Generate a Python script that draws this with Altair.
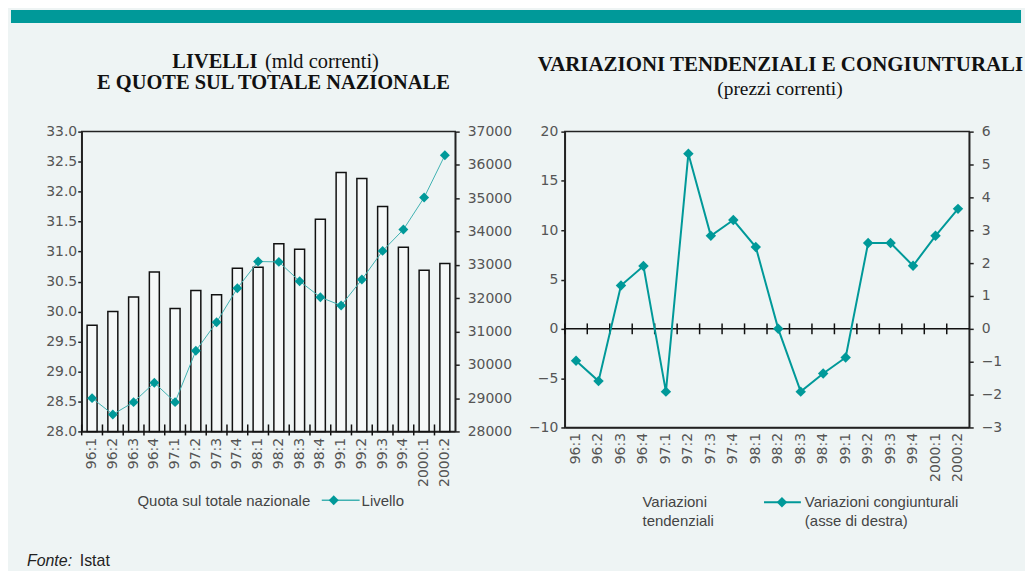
import altair as alt
import pandas as pd

# ---- data ----
cats = ["96:1", "96:2", "96:3", "96:4", "97:1", "97:2", "97:3", "97:4",
        "98:1", "98:2", "98:3", "98:4", "99:1", "99:2", "99:3", "99:4",
        "2000:1", "2000:2"]
quota = [29.77, 30.00, 30.24, 30.66, 30.05, 30.35, 30.28, 30.72,
         30.74, 31.13, 31.04, 31.54, 32.32, 32.22, 31.75, 31.07,
         30.69, 30.80]
livello = [29000, 28510, 28880, 29460, 28880, 30420, 31280, 32300,
           33100, 33090, 32510, 32030, 31780, 32560, 33420, 34060,
           35020, 36290]
congiunturali = [-0.97, -1.59, 1.32, 1.91, -1.91, 5.33, 2.83, 3.31,
                 2.49, 0.0, -1.91, -1.36, -0.87, 2.61, 2.61, 1.92,
                 2.83, 3.65]

quota_ticks = [28.0, 28.5, 29.0, 29.5, 30.0, 30.5, 31.0, 31.5, 32.0, 32.5, 33.0]
livello_ticks = [28000, 29000, 30000, 31000, 32000, 33000, 34000, 35000, 36000, 37000]
tend_ticks = [-10, -5, 0, 5, 10, 15, 20]
cong_ticks = [-3, -2, -1, 0, 1, 2, 3, 4, 5, 6]

df = pd.DataFrame({"periodo": cats, "quota": quota, "livello": livello,
                   "cong": congiunturali})
one = pd.DataFrame({"a": [0]})

TEAL = "#009999"
BG = "#eef4f4"
SANS = "Liberation Sans"
AX = "DejaVu Sans"
SERIF = "Liberation Serif"

W1, H1 = 375, 301
W2, H2 = 406, 297

xscale = alt.Scale(paddingInner=0, paddingOuter=0)


def xaxis(pad):
    return alt.Axis(title=None, labelAngle=-90, ticks=False, labelPadding=pad,
                    labelFont=AX, labelFontSize=14, labelColor="#555")


def txt(s, x, y, size=15, font=SANS, weight="normal", align="left",
        style="normal", color="#444", baseline="alphabetic"):
    return alt.Chart(one).mark_text(
        text=s, font=font, fontSize=size, fontWeight=weight, align=align,
        fontStyle=style, color=color, baseline=baseline
    ).encode(x=alt.value(x), y=alt.value(y))


# ---------------- left panel ----------------
header = alt.Chart(one).mark_rect(color=TEAL).encode(
    x=alt.value(-71), x2=alt.value(943), y=alt.value(-122), y2=alt.value(-109))

bars = alt.Chart(df).mark_bar(width=10, fill="#f5f8f8", stroke="#111",
                              strokeWidth=1.5).encode(
    x=alt.X("periodo:N", sort=cats, scale=xscale, axis=xaxis(6)),
    y=alt.Y("quota:Q", scale=alt.Scale(domain=[28, 33], zero=False, nice=False),
            axis=alt.Axis(orient="left", title=None, values=quota_ticks,
                          format=".1f", tickSize=4, labelPadding=1, grid=False)),
    y2=alt.datum(28),
)

line1 = alt.Chart(df).mark_line(
    color="#3fb1b1", strokeWidth=1,
    point=alt.OverlayMarkDef(shape="diamond", size=100, filled=True,
                             color=TEAL, opacity=1)
).encode(
    x=alt.X("periodo:N", sort=cats, scale=xscale, axis=xaxis(6)),
    y=alt.Y("livello:Q", scale=alt.Scale(domain=[28000, 37000], zero=False, nice=False),
            axis=alt.Axis(orient="right", title=None, values=livello_ticks,
                          format="d", tickSize=4, labelPadding=8, grid=False)),
)

ticks1 = alt.Chart(df).mark_rule(color="#111", strokeWidth=1.5).encode(
    x=alt.X("periodo:N", sort=cats, scale=xscale, axis=xaxis(6), bandPosition=0),
    y=alt.value(H1 - 7), y2=alt.value(H1 + 4),
)

leg1_line = alt.Chart(one).mark_rule(color="#3fb1b1", strokeWidth=1.5).encode(
    x=alt.value(241), x2=alt.value(279), y=alt.value(370))
leg1_pt = alt.Chart(one).mark_point(shape="diamond", size=100, filled=True,
                                    color=TEAL, opacity=1).encode(
    x=alt.value(253), y=alt.value(370))

left = alt.layer(
    header, bars, line1, ticks1,
    txt("LIVELLI", 91, -64, size=20.5, font=SERIF, weight="bold", color="#111"),
    txt("(mld correnti)", 184, -64, size=20.5, font=SERIF, color="#111"),
    txt("E QUOTE SUL TOTALE NAZIONALE", 192.5, -43, size=20.5, font=SERIF,
        weight="bold", align="center", color="#111"),
    txt("Quota sul totale nazionale", 56, 371, baseline="middle"),
    leg1_line, leg1_pt,
    txt("Livello", 281, 371, baseline="middle"),
    txt("Fonte:", -55, 436, size=16, style="italic", color="#222"),
    txt("Istat", -2, 436, size=16, color="#222"),
).resolve_scale(y="independent").properties(width=W1, height=H1)

# ---------------- right panel ----------------
ydom = alt.Scale(domain=[-10, 20], zero=False, nice=False)
yleft_axis = alt.Axis(orient="left", title=None, values=tend_ticks, tickSize=4,
                      labelPadding=3, grid=False)

zero = alt.Chart(one).mark_rule(color="#111", strokeWidth=1.5).encode(
    y=alt.YDatum(0, scale=ydom, axis=yleft_axis))
ticks2 = alt.Chart(df).mark_rule(color="#111", strokeWidth=1.5).encode(
    x=alt.X("periodo:N", sort=cats, scale=xscale, axis=xaxis(5), bandPosition=0),
    y=alt.YDatum(0.55, scale=ydom, axis=yleft_axis),
    y2=alt.datum(-0.55),
)

line2 = alt.Chart(df).mark_line(
    color=TEAL, strokeWidth=2,
    point=alt.OverlayMarkDef(shape="diamond", size=110, filled=True,
                             color=TEAL, opacity=1)
).encode(
    x=alt.X("periodo:N", sort=cats, scale=xscale, axis=xaxis(5)),
    y=alt.Y("cong:Q", scale=alt.Scale(domain=[-3, 6], zero=False, nice=False),
            axis=alt.Axis(orient="right", title=None, values=cong_ticks,
                          tickSize=4, labelPadding=8, grid=False)),
)

leg2_line = alt.Chart(one).mark_rule(color=TEAL, strokeWidth=2).encode(
    x=alt.value(200), x2=alt.value(237), y=alt.value(372))
leg2_pt = alt.Chart(one).mark_point(shape="diamond", size=110, filled=True,
                                    color=TEAL, opacity=1).encode(
    x=alt.value(218), y=alt.value(372))

right = alt.layer(
    alt.layer(zero, ticks2), line2,
    txt("VARIAZIONI TENDENZIALI E CONGIUNTURALI", 216.5, -61, size=21,
        font=SERIF, weight="bold", align="center", color="#111"),
    txt("(prezzi correnti)", 216, -37, size=19.5, font=SERIF, align="center",
        color="#111"),
    txt("Variazioni", 78, 371.5, baseline="middle"),
    txt("tendenziali", 78, 391, baseline="middle"),
    leg2_line, leg2_pt,
    txt("Variazioni congiunturali", 241, 371.5, baseline="middle"),
    txt("(asse di destra)", 241, 391, baseline="middle"),
).resolve_scale(y="independent").properties(width=W2, height=H2)

chart = alt.hconcat(left, right, spacing=110, bounds="flush").properties(
    padding={"left": 2, "top": 0, "right": 0, "bottom": 0}
).configure(background=BG).configure_view(
    stroke="#222", strokeWidth=1.5
).configure_axis(
    labelFont=AX, labelFontSize=14, labelColor="#555", domainColor="#222",
    tickColor="#222", domainWidth=1.5, tickWidth=1.5
)

chart.save("out.html", embed_options={"renderer": "svg", "actions": False})
